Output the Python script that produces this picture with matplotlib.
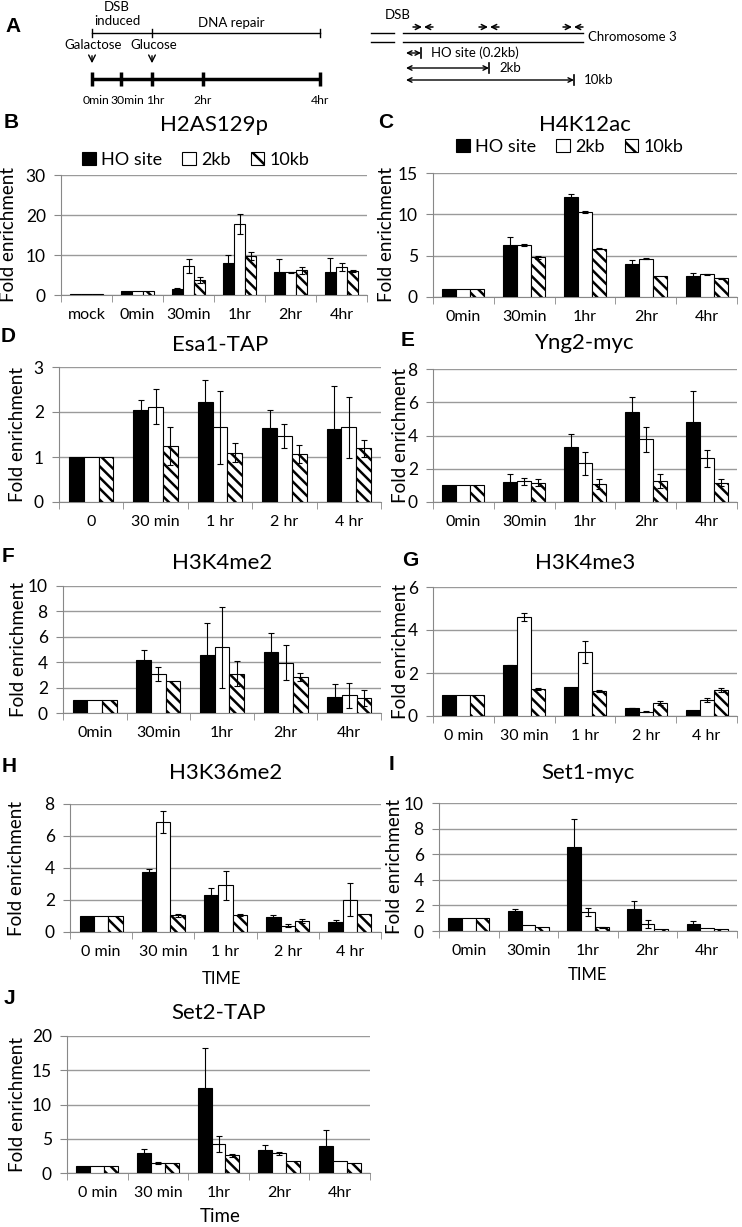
import numpy as np
import matplotlib.pyplot as plt
from matplotlib.patches import Patch

plt.rcParams["font.family"] = ["Lato", "DejaVu Sans"]
plt.rcParams["hatch.linewidth"] = 1.8

W, H = 742, 1227

# B: H2AS129p
b_labels = ["mock", "0min", "30min", "1hr", "2hr", "4hr"]
b_ho = [0.2, 1, 1.4, 8.1, 5.8, 5.8]
b_ho_err = [0, 0, 0.4, 1.8, 3.1, 3.5]
b_2kb = [0.2, 1, 7.2, 17.7, 5.7, 7.0]
b_2kb_err = [0, 0, 1.7, 2.5, 0.1, 1.1]
b_10kb = [0.2, 1, 3.7, 9.8, 6.2, 6.0]
b_10kb_err = [0, 0, 0.8, 1.0, 0.9, 0.3]

# C: H4K12ac
c_labels = ["0min", "30min", "1hr", "2hr", "4hr"]
c_ho = [1, 6.3, 12.05, 4.05, 2.6]
c_ho_err = [0, 1.0, 0.45, 0.45, 0.35]
c_2kb = [1, 6.3, 10.3, 4.65, 2.75]
c_2kb_err = [0, 0.1, 0.15, 0.05, 0.05]
c_10kb = [1, 4.8, 5.85, 2.5, 2.25]
c_10kb_err = [0, 0.15, 0.1, 0, 0.05]

# D: Esa1-TAP
d_labels = ["0", "30 min", "1 hr", "2 hr", "4 hr"]
d_ho = [1, 2.05, 2.22, 1.64, 1.62]
d_ho_err = [0, 0.22, 0.5, 0.41, 0.95]
d_2kb = [1, 2.12, 1.66, 1.47, 1.66]
d_2kb_err = [0, 0.39, 0.81, 0.27, 0.68]
d_10kb = [1, 1.25, 1.1, 1.07, 1.19]
d_10kb_err = [0, 0.42, 0.22, 0.2, 0.18]

# E: Yng2-myc
e_labels = ["0min", "30min", "1hr", "2hr", "4hr"]
e_ho = [1, 1.21, 3.29, 5.44, 4.82]
e_ho_err = [0, 0.5, 0.8, 0.87, 1.87]
e_2kb = [1, 1.25, 2.32, 3.77, 2.62]
e_2kb_err = [0, 0.2, 0.7, 0.75, 0.5]
e_10kb = [1, 1.17, 1.11, 1.25, 1.17]
e_10kb_err = [0, 0.2, 0.3, 0.42, 0.2]

# F: H3K4me2
f_labels = ["0min", "30min", "1hr", "2hr", "4hr"]
f_ho = [1, 4.18, 4.58, 4.79, 1.26]
f_ho_err = [0, 0.8, 2.47, 1.53, 1.05]
f_2kb = [1, 3.1, 5.18, 3.97, 1.39]
f_2kb_err = [0, 0.55, 3.2, 1.35, 1.0]
f_10kb = [1, 2.5, 3.1, 2.82, 1.21]
f_10kb_err = [0, 0, 1.0, 0.3, 0.63]

# G: H3K4me3
g_labels = ["0 min", "30 min", "1 hr", "2 hr", "4 hr"]
g_ho = [1, 2.35, 1.34, 0.37, 0.28]
g_ho_err = [0, 0.02, 0, 0.02, 0]
g_2kb = [1, 4.6, 2.97, 0.2, 0.75]
g_2kb_err = [0, 0.17, 0.5, 0.03, 0.1]
g_10kb = [1, 1.26, 1.17, 0.62, 1.21]
g_10kb_err = [0, 0.05, 0.05, 0.1, 0.1]

# H: H3K36me2
h_labels = ["0 min", "30 min", "1 hr", "2 hr", "4 hr"]
h_ho = [1, 3.77, 2.32, 0.92, 0.6]
h_ho_err = [0, 0.15, 0.44, 0.15, 0.16]
h_2kb = [1, 6.87, 2.91, 0.4, 2.01]
h_2kb_err = [0, 0.68, 0.92, 0.1, 1.03]
h_10kb = [1, 1.05, 1.07, 0.69, 1.13]
h_10kb_err = [0, 0.1, 0.05, 0.12, 0]

# I: Set1-myc
i_labels = ["0min", "30min", "1hr", "2hr", "4hr"]
i_ho = [1, 1.6, 6.6, 1.75, 0.58]
i_ho_err = [0, 0.15, 2.14, 0.6, 0.17]
i_2kb = [1, 0.47, 1.49, 0.55, 0.2]
i_2kb_err = [0, 0, 0.3, 0.28, 0]
i_10kb = [1, 0.29, 0.29, 0.18, 0.16]
i_10kb_err = [0, 0, 0.05, 0, 0]

# J: Set2-TAP
j_labels = ["0 min", "30 min", "1hr", "2hr", "4hr"]
j_ho = [1, 2.87, 12.46, 3.4, 3.89]
j_ho_err = [0, 0.58, 5.8, 0.63, 2.43]
j_2kb = [1, 1.46, 4.23, 2.87, 1.75]
j_2kb_err = [0, 0.2, 1.12, 0.25, 0]
j_10kb = [1, 1.5, 2.58, 1.7, 1.5]
j_10kb_err = [0, 0, 0.2, 0, 0]

series_names = ["HO site", "2kb", "10kb"]
hatch = "\\\\\\"

fig = plt.figure(figsize=(W / 100, H / 100), dpi=100)

ov = fig.add_axes([0, 0, 1, 1])
ov.set_xlim(0, W)
ov.set_ylim(H, 0)
ov.axis("off")


def px_axes(x0, y0, x1, y1):
    return fig.add_axes([x0 / W, 1 - y1 / H, (x1 - x0) / W, (y1 - y0) / H])


def draw_panel(box, labels, ho, ho_err, kb2, kb2_err, kb10, kb10_err,
               ymax, ystep, title, title_y, ylab_x, w=0.23):
    ax = px_axes(*box)
    x = np.arange(len(labels))
    groups = [
        (-w, ho, ho_err, "black", None),
        (0, kb2, kb2_err, "white", None),
        (w, kb10, kb10_err, "white", hatch),
    ]
    for off, vals, errs, face, hat in groups:
        ax.bar(x + off, vals, w, color=face, edgecolor="black",
               linewidth=0.8, hatch=hat, zorder=3)
        errs = np.asarray(errs, dtype=float)
        m = errs > 0
        ax.errorbar((x + off)[m], np.asarray(vals)[m], yerr=errs[m],
                    fmt="none", ecolor="black", elinewidth=0.8,
                    capsize=2.5, capthick=0.8, zorder=4)
    ax.set_xlim(-0.5, len(labels) - 0.5)
    ax.set_ylim(0, ymax)
    ax.set_yticks(np.arange(0, ymax + 0.001, ystep))
    ax.yaxis.grid(True, color="#9a9a9a", lw=1)
    ax.set_axisbelow(True)
    ax.set_xticks(x)
    ax.set_xticklabels(labels)
    ax.set_xticks(np.arange(len(labels) + 1) - 0.5, minor=True)
    ax.tick_params(axis="x", which="major", length=0, pad=9.5, labelsize=11.5)
    ax.tick_params(axis="x", which="minor", length=5, color="#888888")
    ax.tick_params(axis="y", length=5, color="#888888", pad=6, labelsize=12.5)
    for s in ["top", "right"]:
        ax.spines[s].set_visible(False)
    for s in ["left", "bottom"]:
        ax.spines[s].set_color("#888888")
    x0, y0, x1, y1 = box
    ov.text((x0 + x1) / 2, title_y, title, ha="center", va="center", fontsize=16)
    ov.text(ylab_x, (y0 + y1) / 2, "Fold enrichment", rotation=90,
            ha="center", va="center", fontsize=13.5)
    return ax


axB = draw_panel((61, 175, 367, 295), b_labels, b_ho, b_ho_err, b_2kb, b_2kb_err,
                 b_10kb, b_10kb_err, 30, 10, "H2AS129p", 125, 9, w=0.22)
axC = draw_panel((433, 173, 737, 297), c_labels, c_ho, c_ho_err, c_2kb, c_2kb_err,
                 c_10kb, c_10kb_err, 15, 5, "H4K12ac", 125, 387)
draw_panel((59, 367, 381, 502), d_labels, d_ho, d_ho_err, d_2kb, d_2kb_err,
           d_10kb, d_10kb_err, 3, 1, "Esa1-TAP", 345, 18)
draw_panel((433, 369, 737, 502), e_labels, e_ho, e_ho_err, e_2kb, e_2kb_err,
           e_10kb, e_10kb_err, 8, 2, "Yng2-myc", 343, 401)
draw_panel((63, 586, 381, 713), f_labels, f_ho, f_ho_err, f_2kb, f_2kb_err,
           f_10kb, f_10kb_err, 10, 2, "H3K4me2", 563, 19)
draw_panel((433, 587, 737, 716), g_labels, g_ho, g_ho_err, g_2kb, g_2kb_err,
           g_10kb, g_10kb_err, 6, 2, "H3K4me3", 563, 401)
draw_panel((70, 804, 381, 932), h_labels, h_ho, h_ho_err, h_2kb, h_2kb_err,
           h_10kb, h_10kb_err, 8, 2, "H3K36me2", 773, 17)
draw_panel((439, 803, 737, 931), i_labels, i_ho, i_ho_err, i_2kb, i_2kb_err,
           i_10kb, i_10kb_err, 10, 2, "Set1-myc", 773, 395)
draw_panel((67, 1036, 370, 1173), j_labels, j_ho, j_ho_err, j_2kb, j_2kb_err,
           j_10kb, j_10kb_err, 20, 5, "Set2-TAP", 1013, 18)

ov.text(222, 979, "TIME", ha="center", va="center", fontsize=12)
ov.text(588, 975, "TIME", ha="center", va="center", fontsize=12)
ov.text(220, 1217, "Time", ha="center", va="center", fontsize=13.5)

# legends for B and C
handles = [
    Patch(facecolor="black", edgecolor="black", linewidth=0.8),
    Patch(facecolor="white", edgecolor="black", linewidth=0.8),
    Patch(facecolor="white", edgecolor="black", linewidth=0.8, hatch="\\\\"),
]
for ax, (cx, cy) in [(axB, (196, 160)), (axC, (570, 147))]:
    ax.legend(handles, series_names, loc="center", bbox_to_anchor=(cx / W, 1 - cy / H),
              bbox_transform=fig.transFigure, ncol=3, frameon=False, fontsize=13,
              handlelength=0.75, handleheight=0.75, handletextpad=0.3,
              columnspacing=1.1, borderpad=0)

# panel letters
letters = ["A", "B", "C", "D", "E", "F", "G", "H", "I", "J"]
letter_pos = [(13, 26), (11, 123), (386, 123), (8, 336), (408, 341),
              (8, 557), (410, 561), (9, 766), (392, 764), (9, 998)]
for lt, (lx, ly) in zip(letters, letter_pos):
    ov.text(lx, ly, lt, ha="center", va="center", fontsize=15,
            fontweight="bold", family="Liberation Sans")

# panel A: time course schematic
tl_labels = ["0min", "30min", "1hr", "2hr", "4hr"]
tl_x = [92, 121, 152, 203, 320]
tl_text_x = [96, 127, 155, 203, 320]
ov.plot([92, 320], [79, 79], color="black", lw=2.5, solid_capstyle="butt")
for tx in tl_x:
    ov.plot([tx, tx], [72, 86], color="black", lw=2.5, solid_capstyle="butt")
for lx, tlab in zip(tl_text_x, tl_labels):
    ov.text(lx, 100, tlab, ha="center", va="center", fontsize=8.8)
ov.plot([92, 320], [33, 33], color="black", lw=1)
for bx in [92, 152, 320]:
    ov.plot([bx, bx], [29, 37], color="black", lw=1)
ov.text(117, 7, "DSB", ha="center", va="center", fontsize=9.5)
ov.text(117, 21, "induced", ha="center", va="center", fontsize=9.5)
ov.text(231, 23, "DNA repair", ha="center", va="center", fontsize=9.5)
ov.text(93, 45, "Galactose", ha="center", va="center", fontsize=9.5)
ov.text(154, 45, "Glucose", ha="center", va="center", fontsize=9.5)
for ax_x in [92, 152]:
    ov.annotate("", xy=(ax_x, 66), xytext=(ax_x, 53),
                arrowprops=dict(arrowstyle="->", lw=1, color="black", mutation_scale=12))

# panel A: chromosome schematic
ov.text(398, 15, "DSB", ha="center", va="center", fontsize=9.5)
ov.plot([371, 394], [33, 33], color="black", lw=1)
ov.plot([371, 394], [42, 42], color="black", lw=1)
ov.plot([403, 583], [33, 33], color="black", lw=1)
ov.plot([403, 583], [42, 42], color="black", lw=1)
ov.text(588, 37, "Chromosome 3", ha="left", va="center", fontsize=9.5)
for pc in [423, 489, 573]:
    ov.annotate("", xy=(pc - 1, 27), xytext=(pc - 10, 27),
                arrowprops=dict(arrowstyle="->", lw=1.1, color="black", mutation_scale=9,
                                shrinkA=0, shrinkB=0))
    ov.annotate("", xy=(pc + 1, 27), xytext=(pc + 10, 27),
                arrowprops=dict(arrowstyle="->", lw=1.1, color="black", mutation_scale=9,
                                shrinkA=0, shrinkB=0))
ranges = [("HO site (0.2kb)", 421, 53), ("2kb", 489, 68), ("10kb", 574, 80)]
for rlab, rx, ry in ranges:
    ov.annotate("", xy=(rx, ry), xytext=(406, ry),
                arrowprops=dict(arrowstyle="<->", lw=1, color="black", mutation_scale=8,
                                shrinkA=0, shrinkB=0))
    ov.plot([rx, rx], [ry - 5, ry + 5], color="black", lw=1.2)
    ov.text(rx + 10, ry, rlab, ha="left", va="center", fontsize=9.5)

fig.savefig("out.png", dpi=100)
